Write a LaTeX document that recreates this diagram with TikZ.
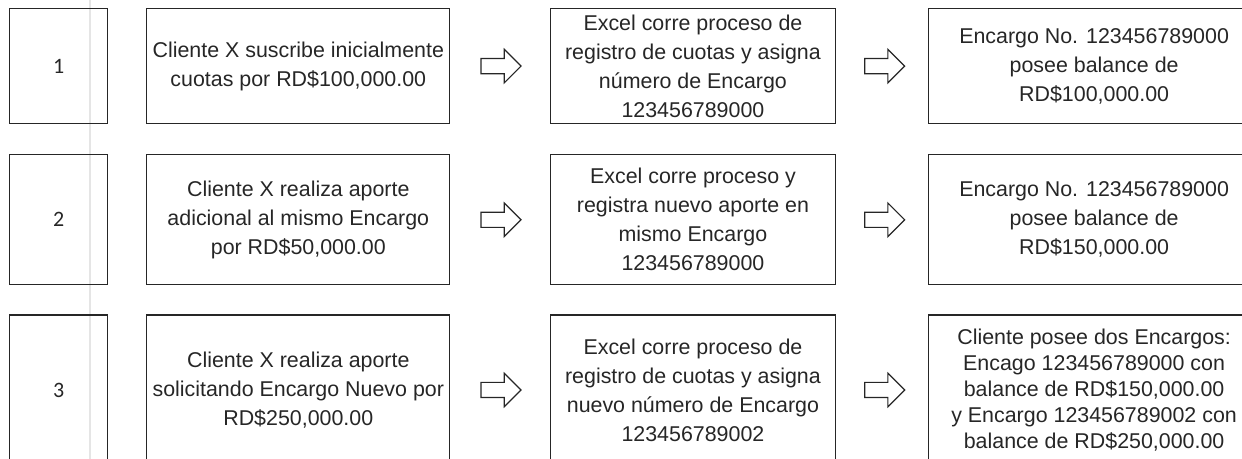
\documentclass[tikz,border=0pt]{standalone}
\usepackage{fontspec}
\setmainfont{Liberation Sans}
\newfontfamily\carlito{Carlito}
\usetikzlibrary{shapes.arrows, positioning}
\tikzset{
  % Box styles
  numbox/.style={rectangle, draw=black!85, line width=0.6pt, minimum width=49pt, font=\carlito\fontsize{11}{13}\selectfont, text=black!85},
  stepbox/.style={rectangle, draw=black!85, line width=0.6pt, align=center, inner xsep=1pt, inner ysep=0pt, font=\fontsize{10.7}{14.5}\selectfont, text=black!85},
  % Row heights
  rowone/.style={minimum height=57.5pt},
  rowtwo/.style={minimum height=65pt},
  rowthree/.style={minimum height=75pt},
  % Column widths
  clientcol/.style={minimum width=151.5pt},
  excelcol/.style={minimum width=142.5pt},
  encargocol/.style={minimum width=166pt},
  % Arrow styles
  blockarrow/.style={single arrow, draw=black!85, line width=0.6pt, fill=white, minimum height=20pt, inner xsep=0pt, inner ysep=3.5pt, single arrow head extend=4.6pt}
}
\begin{document}
\begin{tikzpicture}[x=0.5pt, y=-0.5pt]
  \useasboundingbox (0,0) rectangle (1242,459);
  \clip (0,0) rectangle (1242,459);

  % Scan line
  \draw[gray!20, line width=1pt] (90,0) -- (90,459);

  % Row 1
  \node[numbox, rowone, anchor=north west] (paso1) at (9,8) {1};
  \node[stepbox, rowone, clientcol, right=19pt of paso1] (cliente1) {Cliente X suscribe inicialmente\\cuotas por RD\$100,000.00};
  \node[blockarrow, right=15pt of cliente1] (flechaA1) {};
  \node[stepbox, rowone, excelcol, right=14pt of flechaA1] (excel1) {Excel corre proceso de\\registro de cuotas y asigna\\número de Encargo\\123456789000};
  \node[blockarrow, right=14pt of excel1] (flechaB1) {};
  \node[stepbox, rowone, encargocol, right=14.5pt of flechaB1, xshift=-3.5pt] (encargo1) {Encargo No. 123456789000\\posee balance de\\RD\$100,000.00};

  % Row 2
  \node[numbox, rowtwo, below=15pt of paso1] (paso2) {2};
  \node[stepbox, rowtwo, clientcol, right=19pt of paso2] (cliente2) {Cliente X realiza aporte\\adicional al mismo Encargo\\por RD\$50,000.00};
  \node[blockarrow, right=15pt of cliente2] (flechaA2) {};
  \node[stepbox, rowtwo, excelcol, right=14pt of flechaA2] (excel2) {Excel corre proceso y\\registra nuevo aporte en\\mismo Encargo\\123456789000};
  \node[blockarrow, right=14pt of excel2] (flechaB2) {};
  \node[stepbox, rowtwo, encargocol, right=14.5pt of flechaB2, xshift=-3.5pt] (encargo2) {Encargo No. 123456789000\\posee balance de\\RD\$150,000.00};

  % Row 3
  \node[numbox, rowthree, below=14.5pt of paso2] (paso3) {3};
  \node[stepbox, rowthree, clientcol, right=19pt of paso3] (cliente3) {Cliente X realiza aporte\\solicitando Encargo Nuevo por\\RD\$250,000.00};
  \node[blockarrow, right=15pt of cliente3] (flechaA3) {};
  \node[stepbox, rowthree, excelcol, right=14pt of flechaA3] (excel3) {Excel corre proceso de\\registro de cuotas y asigna\\nuevo número de Encargo\\123456789002};
  \node[blockarrow, right=14pt of excel3] (flechaB3) {};
  \node[stepbox, rowthree, encargocol, right=14.5pt of flechaB3, xshift=-3.5pt, font=\fontsize{10.7}{13}\selectfont] (encargo3) {Cliente posee dos Encargos:\\Encago 123456789000 con\\balance de RD\$150,000.00\\y Encargo 123456789002 con\\balance de RD\$250,000.00};
\end{tikzpicture}
\end{document}
